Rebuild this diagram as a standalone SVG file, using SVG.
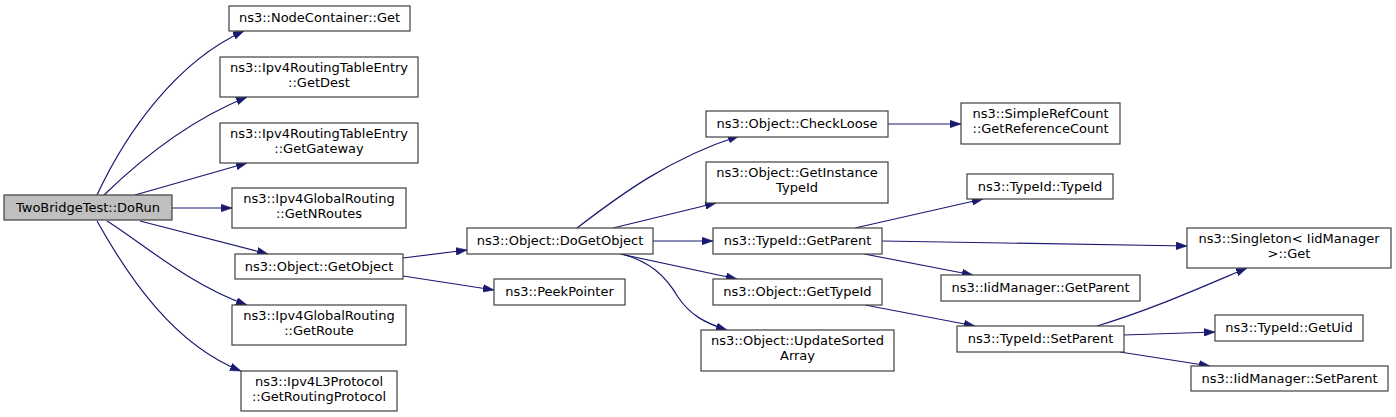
<svg xmlns="http://www.w3.org/2000/svg" width="1396" height="417" viewBox="0 0 1396 417">
<defs>
<marker id="arr" markerUnits="userSpaceOnUse" viewBox="0 0 10 7" refX="10" refY="3.5" markerWidth="11" markerHeight="8" orient="auto">
<path d="M0,0 L10,3.5 L0,7 Z" fill="#191970" stroke="#191970" stroke-width="0.5"/>
</marker>
</defs>
<style>
.n rect{fill:#ffffff;stroke:#404040;stroke-width:1.2}
.root rect{fill:#bfbfbf}
.n text{font-family:"DejaVu Sans",sans-serif;font-size:13px;fill:#000;text-anchor:middle}
.e path{fill:none;stroke:#191970;stroke-width:1.2;marker-end:url(#arr)}
</style>
<rect width="1396" height="417" fill="#ffffff"/>
<g id="edges" class="e">
<path d="M97,195 C125,135 175,62 244,31"/>
<path d="M104,195 C140,160 190,120 247,97"/>
<path d="M135,195 L247,163"/>
<path d="M172,208 L232,208"/>
<path d="M140,221 L268,254"/>
<path d="M107,221 C145,245 190,285 247,305"/>
<path d="M97,221 C130,280 175,345 241,371"/>
<path d="M403,258 L467,250"/>
<path d="M403,276 L494,290"/>
<path d="M577,228 C620,195 670,158 739,136"/>
<path d="M613,228 L716,203"/>
<path d="M653,241 L713,241"/>
<path d="M620,254 L737,279"/>
<path d="M622,254 C650,262 665,275 678,297 C690,315 705,323 727,330"/>
<path d="M888,124 L961,124"/>
<path d="M855,228 L983,199"/>
<path d="M882,241 L1187,246"/>
<path d="M864,254 L973,275"/>
<path d="M865,305 L975,326"/>
<path d="M1097,326 C1150,310 1195,290 1247,268"/>
<path d="M1124,335 L1215,332"/>
<path d="M1120,352 L1210,366"/>
</g>
<g id="n_dorun" class="n root"><rect x="4" y="195" width="168" height="25"/><text x="88" y="212">TwoBridgeTest::DoRun</text></g>
<g id="n_nodecontainer_get" class="n"><rect x="229" y="6" width="181" height="25"/><text x="319.5" y="22">ns3::NodeContainer::Get</text></g>
<g id="n_getdest" class="n"><rect x="220" y="57" width="198" height="40"/><text x="319" y="72">ns3::Ipv4RoutingTableEntry</text><text x="319" y="87">::GetDest</text></g>
<g id="n_getgateway" class="n"><rect x="220" y="123" width="198" height="40"/><text x="319" y="138">ns3::Ipv4RoutingTableEntry</text><text x="319" y="153">::GetGateway</text></g>
<g id="n_getnroutes" class="n"><rect x="232" y="188" width="174" height="40"/><text x="319" y="203">ns3::Ipv4GlobalRouting</text><text x="319" y="218">::GetNRoutes</text></g>
<g id="n_getobject" class="n"><rect x="235" y="254" width="168" height="25"/><text x="319" y="271">ns3::Object::GetObject</text></g>
<g id="n_getroute" class="n"><rect x="232" y="305" width="174" height="40"/><text x="319" y="320">ns3::Ipv4GlobalRouting</text><text x="319" y="335">::GetRoute</text></g>
<g id="n_getroutingprotocol" class="n"><rect x="241" y="371" width="156" height="40"/><text x="319" y="386">ns3::Ipv4L3Protocol</text><text x="319" y="401">::GetRoutingProtocol</text></g>
<g id="n_dogetobject" class="n"><rect x="467" y="228" width="186" height="26"/><text x="560" y="245">ns3::Object::DoGetObject</text></g>
<g id="n_peekpointer" class="n"><rect x="494" y="279" width="131" height="26"/><text x="559.5" y="296">ns3::PeekPointer</text></g>
<g id="n_checkloose" class="n"><rect x="706" y="111" width="182" height="26"/><text x="797" y="128">ns3::Object::CheckLoose</text></g>
<g id="n_getinstancetypeid" class="n"><rect x="706" y="162" width="182" height="41"/><text x="797" y="177">ns3::Object::GetInstance</text><text x="797" y="192">TypeId</text></g>
<g id="n_typeid_getparent" class="n"><rect x="713" y="228" width="169" height="26"/><text x="797.5" y="245">ns3::TypeId::GetParent</text></g>
<g id="n_object_gettypeid" class="n"><rect x="713" y="279" width="169" height="26"/><text x="797.5" y="296">ns3::Object::GetTypeId</text></g>
<g id="n_updatesortedarray" class="n"><rect x="701" y="330" width="193" height="41"/><text x="797.5" y="345">ns3::Object::UpdateSorted</text><text x="797.5" y="360">Array</text></g>
<g id="n_getreferencecount" class="n"><rect x="961" y="103" width="159" height="41"/><text x="1040.5" y="118">ns3::SimpleRefCount</text><text x="1040.5" y="133">::GetReferenceCount</text></g>
<g id="n_typeid_typeid" class="n"><rect x="967" y="174" width="146" height="25"/><text x="1040" y="191">ns3::TypeId::TypeId</text></g>
<g id="n_singleton_get" class="n"><rect x="1187" y="228" width="204" height="40"/><text x="1289" y="243">ns3::Singleton&lt; IidManager</text><text x="1289" y="258"> &gt;::Get</text></g>
<g id="n_iidmanager_getparent" class="n"><rect x="941" y="275" width="199" height="26"/><text x="1040.5" y="292">ns3::IidManager::GetParent</text></g>
<g id="n_typeid_setparent" class="n"><rect x="957" y="326" width="167" height="26"/><text x="1040.5" y="343">ns3::TypeId::SetParent</text></g>
<g id="n_typeid_getuid" class="n"><rect x="1215" y="315" width="148" height="26"/><text x="1289" y="332">ns3::TypeId::GetUid</text></g>
<g id="n_iidmanager_setparent" class="n"><rect x="1191" y="366" width="197" height="25"/><text x="1289.5" y="383">ns3::IidManager::SetParent</text></g>
</svg>
